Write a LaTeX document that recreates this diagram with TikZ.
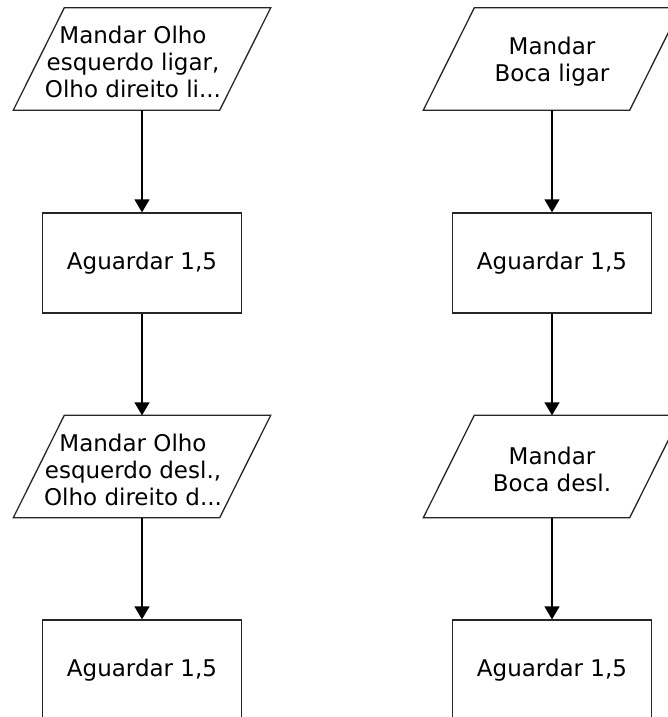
\documentclass[tikz,border=0pt]{standalone}
\usepackage{fontspec}
\setmainfont{DejaVu Sans}
\usetikzlibrary{arrows.meta}

\tikzset{
  shapeline/.style={draw=black!85, line width=1.3pt},
  iobox/.style={rectangle, minimum width=206pt, minimum height=102pt, inner sep=0pt},
  waitbox/.style={shapeline, rectangle, minimum width=199pt, minimum height=100pt, inner sep=0pt,
    font=\fontsize{23}{27}\selectfont},
  lbl/.style={align=center, inner sep=0pt, yshift=-3pt, font=\fontsize{23}{27}\selectfont},
  flow/.style={draw=black, line width=1.4pt, -{Triangle[length=13pt,width=15pt]}}
}

% draws the slanted outline of an input/output node
\newcommand{\ioshape}[1]{%
  \draw[shapeline] ([xshift=25.5pt]#1.north west) -- ([xshift=25.5pt]#1.north east)
    -- ([xshift=-25.5pt]#1.south east) -- ([xshift=-25.5pt]#1.south west) -- cycle;}

\begin{document}
\begin{tikzpicture}[x=1pt, y=-1pt]
  \useasboundingbox (0,0) rectangle (668,717);
  \clip (0,0) rectangle (668,717);

  % left sequence
  \node[iobox, label={[lbl, xshift=-9pt]center:Mandar Olho\\esquerdo ligar,\\Olho direito li...}] (l1) at (142,59) {};
  \node[waitbox] (l2) at (142,263) {Aguardar 1,5};
  \node[iobox, label={[lbl, xshift=-9pt]center:Mandar Olho\\esquerdo desl.,\\Olho direito d...}] (l3) at (142,466.5) {};
  \node[waitbox] (l4) at (142,670) {Aguardar 1,5};

  % right sequence
  \node[iobox, label={[lbl]center:Mandar\\Boca ligar}] (r1) at (552,59) {};
  \node[waitbox] (r2) at (552,263) {Aguardar 1,5};
  \node[iobox, label={[lbl]center:Mandar\\Boca desl.}] (r3) at (552,466.5) {};
  \node[waitbox] (r4) at (552,670) {Aguardar 1,5};

  \ioshape{l1}
  \ioshape{l3}
  \ioshape{r1}
  \ioshape{r3}

  \draw[flow] (l1.south) -- (l2.north);
  \draw[flow] (l2.south) -- (l3.north);
  \draw[flow] (l3.south) -- (l4.north);
  \draw[flow] (r1.south) -- (r2.north);
  \draw[flow] (r2.south) -- (r3.north);
  \draw[flow] (r3.south) -- (r4.north);
\end{tikzpicture}
\end{document}
